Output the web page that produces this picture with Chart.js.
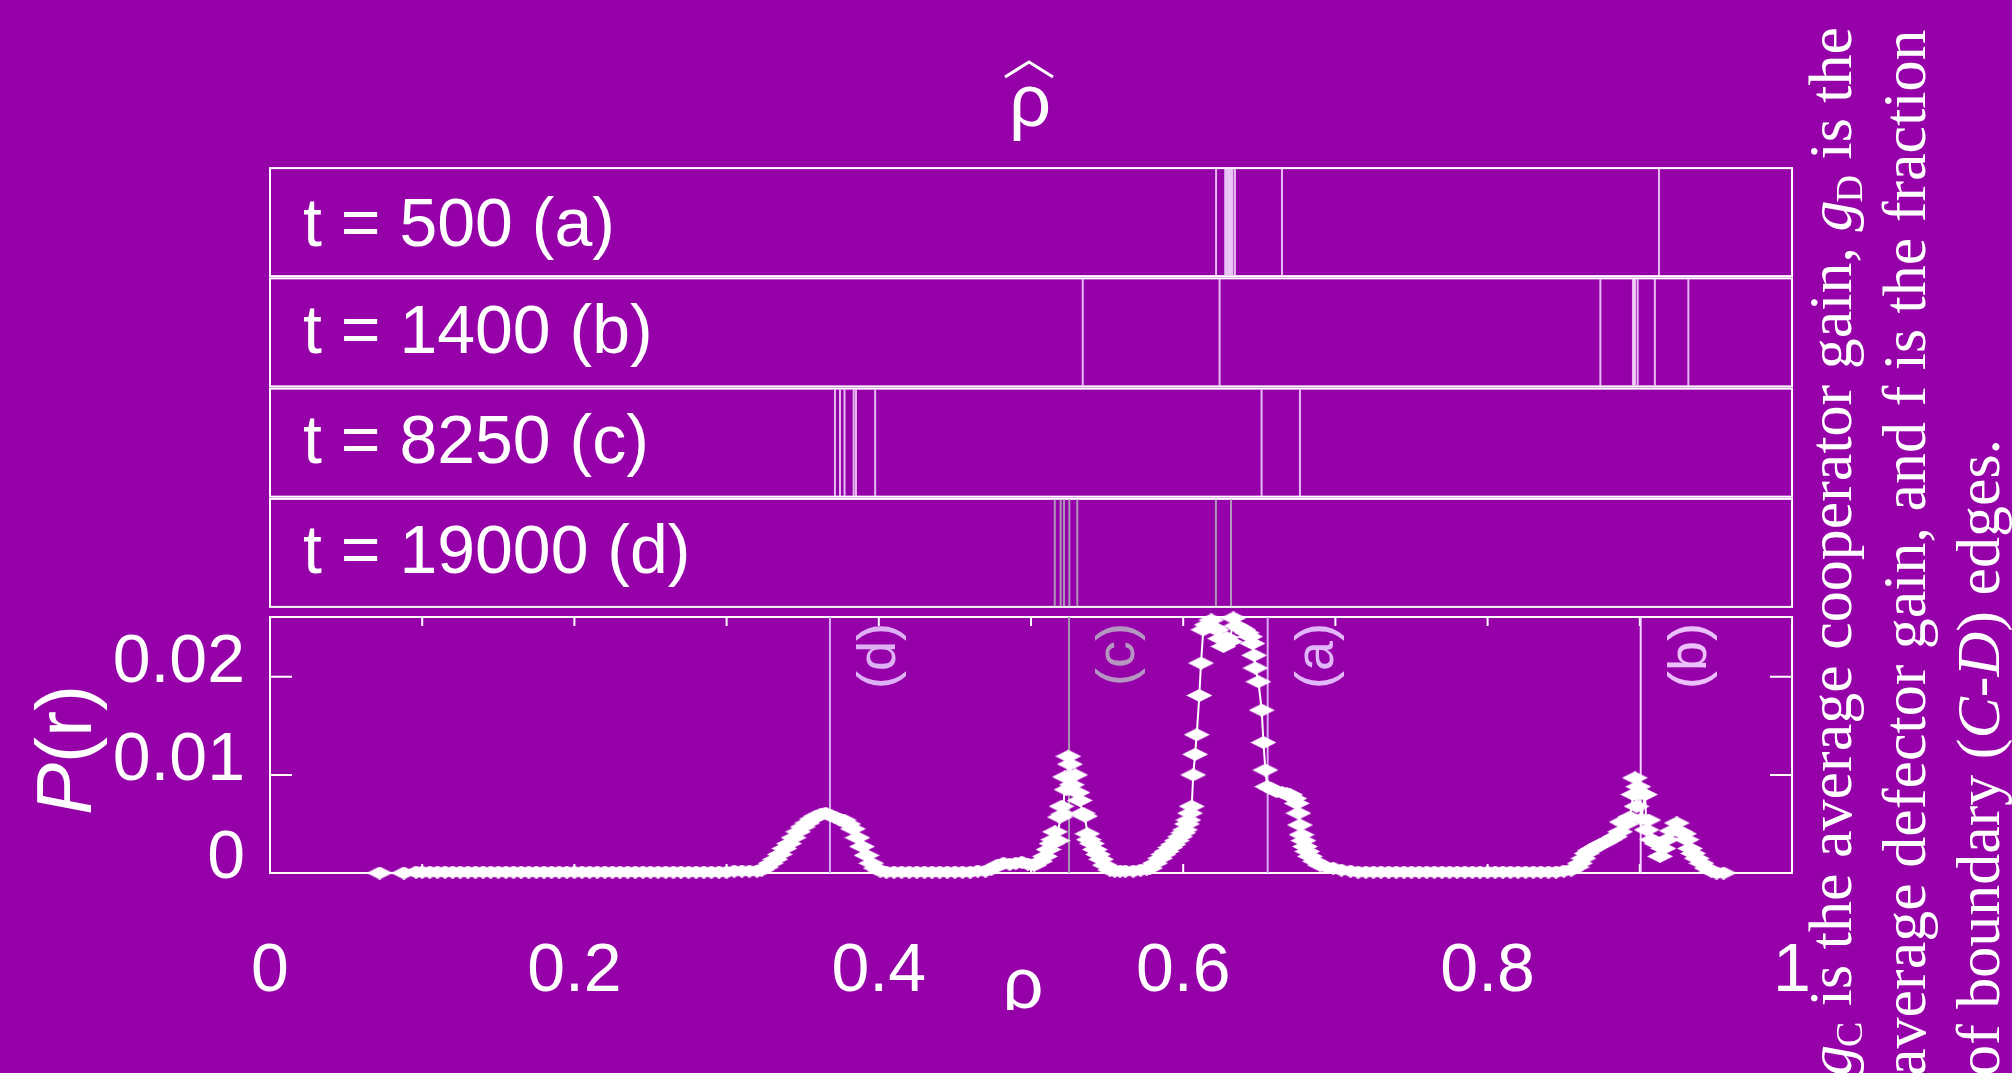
<!DOCTYPE html>
<html>
<head>
<meta charset="utf-8">
<script src="https://cdn.jsdelivr.net/npm/chart.js@4.4.1/dist/chart.umd.min.js"></script>
<style>
  html, body { margin: 0; padding: 0; background: #9500a9; }
  #page { position: relative; width: 2012px; height: 1073px; overflow: hidden; background: #9500a9; }
  #page canvas, #page svg { position: absolute; left: 0; top: 0; }
</style>
</head>
<body>
<div id="page">
  <canvas id="rowsChart" width="2012" height="1073"></canvas>
  <canvas id="probChart" width="2012" height="1073"></canvas>
  <svg width="2012" height="1073" xmlns="http://www.w3.org/2000/svg" font-family="'Liberation Sans', Arial, sans-serif" fill="#ffffff">
    <defs>
      <clipPath id="xLabelClip"><rect x="900" y="900" width="250" height="110"/></clipPath>
    </defs>
    <!-- top title: rho hat -->
    <polyline points="1005,77 1029,62 1053,77" fill="none" stroke="#ffffff" stroke-width="3"/>
    <text x="1030" y="126" font-size="74" text-anchor="middle">ρ</text>
    <!-- panel labels -->
    <text x="303" y="246" font-size="68">t = 500 (a)</text>
    <text x="303" y="353" font-size="68">t = 1400 (b)</text>
    <text x="303" y="463" font-size="68">t = 8250 (c)</text>
    <text x="303" y="573" font-size="68">t = 19000 (d)</text>
    <!-- axis titles -->
    <text transform="translate(91,750) rotate(-90)" font-size="78" text-anchor="middle"><tspan font-style="italic">P</tspan>(r)</text>
    <text x="1023" y="1008" font-size="72" text-anchor="middle" clip-path="url(#xLabelClip)">ρ</text>
    <!-- caption, rotated -->
    <g font-family="'Liberation Serif', 'Times New Roman', serif" font-size="62">
      <text transform="translate(1851,1076) rotate(-90)"><tspan font-style="italic">g</tspan><tspan font-size="38" dx="-2" dy="11">C</tspan><tspan dy="-11"> is the average cooperator gain, </tspan><tspan font-style="italic">g</tspan><tspan font-size="38" dx="-2" dy="11">D</tspan><tspan dy="-11"> is the</tspan></text>
      <text transform="translate(1925,1076) rotate(-90)">average defector gain, and f is the fraction</text>
      <text transform="translate(1999,1076) rotate(-90)">of boundary (<tspan font-style="italic">C</tspan>-<tspan font-style="italic">D</tspan>) edges.</text>
    </g>
  </svg>
</div>
<script>
// rho-hat positions seen in each snapshot panel (a)..(d)
const rowNames = ['a', 'b', 'c', 'd'];
const rhoHatA = [0.6216, 0.6276, 0.6284, 0.6292, 0.6300, 0.6308, 0.6316, 0.6324, 0.6340, 0.6649, 0.9126];
const rhoHatB = [0.5340, 0.6239, 0.8741, 0.8955, 0.8962, 0.8969, 0.8986, 0.9099, 0.9319];
const rhoHatC = [0.3712, 0.3745, 0.3775, 0.3835, 0.3850, 0.3976, 0.6515, 0.6767];
const rhoHatD = [0.5156, 0.5195, 0.5217, 0.5252, 0.5304, 0.6215, 0.6314];
const rowColors = ['rgba(238,205,250,0.9)', 'rgba(238,205,250,0.9)', 'rgba(238,205,250,0.9)', 'rgb(172,152,182)'];

// marked rho values in the P(r) panel
const markLabels = ['(a)', '(b)', '(c)', '(d)'];
const markRho = [0.6555, 0.9006, 0.5250, 0.3679];
const markLineColors = ['rgb(222,172,246)', 'rgb(242,212,252)', 'rgb(168,150,178)', 'rgb(216,170,242)'];
const markTextColors = ['rgb(226,182,250)', 'rgb(236,192,252)', 'rgb(180,150,192)', 'rgb(222,176,246)'];

// P(r) curve
const rhoVals = [
  0.072, 0.088, 0.096,
  0.100, 0.105, 0.110, 0.115, 0.120, 0.125, 0.130, 0.135, 0.140, 0.145, 0.150, 0.155, 0.160, 0.165, 0.170,
  0.175, 0.180, 0.185, 0.190, 0.195, 0.200, 0.205, 0.210, 0.215, 0.220, 0.225, 0.230, 0.235, 0.240, 0.245,
  0.250, 0.255, 0.260, 0.265, 0.270, 0.275, 0.280, 0.285, 0.290, 0.295, 0.300, 0.305, 0.310, 0.315, 0.320,
  0.323, 0.326, 0.329, 0.332, 0.335, 0.338, 0.341, 0.344, 0.347, 0.350, 0.353, 0.356, 0.359, 0.362, 0.365,
  0.368, 0.371, 0.374, 0.377, 0.380, 0.383, 0.386, 0.389, 0.392, 0.395, 0.398, 0.401,
  0.405, 0.410, 0.415, 0.420, 0.425, 0.430, 0.435, 0.440, 0.445, 0.450, 0.455, 0.460, 0.465, 0.470,
  0.474, 0.478, 0.482, 0.486, 0.490, 0.494, 0.498, 0.502, 0.506,
  0.5092, 0.5115, 0.5135, 0.5147, 0.5158, 0.5175, 0.5190, 0.5201, 0.5212, 0.5223, 0.5234, 0.5245, 0.5256,
  0.5268, 0.5290, 0.5305, 0.5320, 0.5340, 0.5355, 0.5370, 0.5380, 0.5400, 0.5420, 0.5440, 0.5460, 0.5485,
  0.5519, 0.5550, 0.5585, 0.5620, 0.5672, 0.5720, 0.5760, 0.5782, 0.5815, 0.5848, 0.5870, 0.5891, 0.5915,
  0.5935, 0.5958, 0.5979, 0.6000, 0.6012, 0.6025, 0.6034, 0.6045, 0.6056, 0.6066, 0.6078, 0.6089, 0.6106,
  0.6117, 0.6132, 0.6154, 0.6185, 0.6205, 0.6220, 0.6242, 0.6264, 0.6285, 0.6307, 0.6330, 0.6350, 0.6373,
  0.6395, 0.6417, 0.6440, 0.6455, 0.6466, 0.6475, 0.6494, 0.6516, 0.6527, 0.6540, 0.6552, 0.6580, 0.6614,
  0.6650, 0.6680, 0.6702, 0.6730, 0.6746, 0.6757, 0.6767, 0.6778, 0.6790, 0.6800, 0.6815, 0.6833, 0.6865,
  0.6899, 0.6940, 0.6986, 0.7040, 0.7100,
  0.715, 0.720, 0.725, 0.730, 0.735, 0.740, 0.745, 0.750, 0.755, 0.760, 0.765, 0.770, 0.775, 0.780, 0.785,
  0.790, 0.795, 0.800, 0.805, 0.810, 0.815, 0.820, 0.825, 0.830, 0.835, 0.840, 0.845, 0.850, 0.855,
  0.8585, 0.8607, 0.8630, 0.8651, 0.8673, 0.8695, 0.8717, 0.8739, 0.8770, 0.8804, 0.8837, 0.8870, 0.8881,
  0.8910, 0.8935, 0.8957, 0.8968, 0.8979, 0.8990, 0.9010, 0.9034, 0.9045, 0.9056, 0.9080, 0.9110, 0.9133,
  0.9155, 0.9177, 0.9210, 0.9243, 0.9265, 0.9290, 0.9308, 0.9330, 0.9350, 0.9374, 0.9405, 0.9440, 0.9470,
  0.9505, 0.9550
];
const probVals = [
  0.0000, 0.0000, 0.0001,
  0.0001, 0.0001, 0.0001, 0.0001, 0.0001, 0.0001, 0.0001, 0.0001, 0.0001, 0.0001, 0.0001, 0.0001, 0.0001, 0.0001, 0.0001,
  0.0001, 0.0001, 0.0001, 0.0001, 0.0001, 0.0001, 0.0001, 0.0001, 0.0001, 0.0001, 0.0001, 0.0001, 0.0001, 0.0001, 0.0001,
  0.0001, 0.0001, 0.0001, 0.0001, 0.0001, 0.0001, 0.0001, 0.0001, 0.0001, 0.0001, 0.0001, 0.0002, 0.0002, 0.0002, 0.0002,
  0.0003, 0.0006, 0.0010, 0.0014, 0.0019, 0.0025, 0.0030, 0.0036, 0.0042, 0.0047, 0.0051, 0.0055, 0.0058, 0.0060, 0.0061,
  0.0059, 0.0057, 0.0055, 0.0054, 0.0050, 0.0045, 0.0036, 0.0027, 0.0018, 0.0010, 0.0005, 0.0002,
  0.0001, 0.0001, 0.0001, 0.0001, 0.0001, 0.0001, 0.0001, 0.0001, 0.0001, 0.0001, 0.0001, 0.0001, 0.0002, 0.0002,
  0.0004, 0.0008, 0.0010, 0.0009, 0.0010, 0.0011, 0.0009, 0.0008, 0.0012,
  0.0017, 0.0024, 0.0030, 0.0034, 0.0042, 0.0033, 0.0057, 0.0068, 0.0060, 0.0098, 0.0085, 0.0119, 0.0111,
  0.0090, 0.0100, 0.0082, 0.0074, 0.0061, 0.0058, 0.0040, 0.0034, 0.0030, 0.0024, 0.0019, 0.0014, 0.0008,
  0.0003, 0.0002, 0.0002, 0.0002, 0.0002, 0.0003, 0.0004, 0.0005, 0.0010, 0.0015, 0.0019, 0.0022, 0.0026,
  0.0029, 0.0033, 0.0037, 0.0041, 0.0044, 0.0050, 0.0054, 0.0061, 0.0068, 0.0100, 0.0121, 0.0141, 0.0181,
  0.0214, 0.0248, 0.0253, 0.0258, 0.0250, 0.0248, 0.0239, 0.0231, 0.0240, 0.0236, 0.0260, 0.0252, 0.0250,
  0.0248, 0.0245, 0.0241, 0.0234, 0.0222, 0.0209, 0.0195, 0.0166, 0.0133, 0.0105, 0.0088, 0.0086, 0.0083,
  0.0082, 0.0081, 0.0080, 0.0076, 0.0071, 0.0061, 0.0049, 0.0039, 0.0033, 0.0027, 0.0022, 0.0017, 0.0012,
  0.0008, 0.0006, 0.0005, 0.0003, 0.0002,
  0.0001, 0.0001, 0.0001, 0.0001, 0.0001, 0.0001, 0.0001, 0.0001, 0.0001, 0.0001, 0.0001, 0.0001, 0.0001, 0.0001, 0.0001,
  0.0001, 0.0001, 0.0001, 0.0001, 0.0001, 0.0001, 0.0001, 0.0001, 0.0001, 0.0001, 0.0001, 0.0001, 0.0002, 0.0003,
  0.0006, 0.0010, 0.0015, 0.0020, 0.0023, 0.0025, 0.0027, 0.0029, 0.0031, 0.0034, 0.0037, 0.0042, 0.0052,
  0.0050, 0.0057, 0.0080, 0.0097, 0.0068, 0.0088, 0.0055, 0.0080, 0.0044, 0.0054, 0.0034, 0.0030, 0.0017,
  0.0025, 0.0034, 0.0043, 0.0051, 0.0042, 0.0040, 0.0034, 0.0025, 0.0020, 0.0015, 0.0010, 0.0005, 0.0002,
  0.0000, 0.0000
];

const xLabelTicks = [0, 0.2, 0.4, 0.6, 0.8, 1];
const xMinorTicks = [0.1, 0.2, 0.3, 0.4, 0.5, 0.6, 0.7, 0.8, 0.9];
const yTicks = [0, 0.01, 0.02];
const yMax = 0.0261;

const sansFont = "'Liberation Sans', Arial, sans-serif";

// flat diamond marker like the gnuplot points
const diamond = document.createElement('canvas');
diamond.width = 26;
diamond.height = 13;
(function() {
  const c = diamond.getContext('2d');
  c.fillStyle = '#ffffff';
  c.beginPath();
  c.moveTo(0, 6.5); c.lineTo(13, 0); c.lineTo(26, 6.5); c.lineTo(13, 13);
  c.closePath();
  c.fill();
})();

// ---------- top: rho-hat snapshots ----------
const rowDatasets = [];
[rhoHatA, rhoHatB, rhoHatC, rhoHatD].forEach(function(vals, r) {
  vals.forEach(function(v) {
    rowDatasets.push({
      data: [{ x: v, y: r + 0.015 }, { x: v, y: r + 0.985 }],
      showLine: true,
      borderColor: rowColors[r],
      borderWidth: 2,
      pointRadius: 0
    });
  });
});

const rowFrames = {
  id: 'rowFrames',
  beforeDatasetsDraw(chart) {
    const { ctx, chartArea, scales } = chart;
    ctx.save();
    ctx.strokeStyle = '#ffffff';
    ctx.lineWidth = 2;
    rowNames.forEach(function(name, r) {
      const top = scales.y.getPixelForValue(r + 0.01);
      const bottom = scales.y.getPixelForValue(r + 0.99);
      ctx.strokeRect(chartArea.left, top, chartArea.right - chartArea.left, bottom - top);
    });
    ctx.restore();
  }
};

new Chart(document.getElementById('rowsChart'), {
  type: 'scatter',
  data: { datasets: rowDatasets },
  options: {
    responsive: false,
    animation: false,
    devicePixelRatio: 1,
    layout: { padding: { left: 270, right: 220, top: 167, bottom: 465 } },
    scales: {
      x: { type: 'linear', min: 0, max: 1, display: false },
      y: { type: 'linear', min: 0, max: 4, reverse: true, display: false }
    },
    plugins: { legend: { display: false }, tooltip: { enabled: false } }
  },
  plugins: [rowFrames]
});

// ---------- bottom: P(r) ----------
const curvePoints = rhoVals.map(function(x, i) { return { x: x, y: probVals[i] }; });

const probDatasets = [{
  data: curvePoints,
  showLine: true,
  borderColor: '#ffffff',
  borderWidth: 2,
  pointStyle: diamond,
  pointRadius: 7,
  clip: false
}];
markRho.forEach(function(v, i) {
  probDatasets.push({
    data: [{ x: v, y: 0 }, { x: v, y: yMax }],
    showLine: true,
    borderColor: markLineColors[i],
    borderWidth: 2,
    pointRadius: 0
  });
});

const frameAndTicks = {
  id: 'frameAndTicks',
  beforeDatasetsDraw(chart) {
    const { ctx, chartArea, scales } = chart;
    const { left, right, top, bottom } = chartArea;
    ctx.save();
    ctx.strokeStyle = '#ffffff';
    ctx.lineWidth = 2;
    ctx.strokeRect(left, top, right - left, bottom - top);
    ctx.beginPath();
    xMinorTicks.forEach(function(v) {
      const px = scales.x.getPixelForValue(v);
      ctx.moveTo(px, bottom); ctx.lineTo(px, bottom - 9);
      ctx.moveTo(px, top); ctx.lineTo(px, top + 9);
    });
    yTicks.forEach(function(v) {
      const py = scales.y.getPixelForValue(v);
      ctx.moveTo(left, py); ctx.lineTo(left + 22, py);
      ctx.moveTo(right, py); ctx.lineTo(right - 22, py);
    });
    ctx.stroke();
    ctx.restore();
  },
  afterDatasetsDraw(chart) {
    const { ctx, scales } = chart;
    ctx.save();
    ctx.font = '54px ' + sansFont;
    ctx.textAlign = 'right';
    ctx.textBaseline = 'middle';
    markRho.forEach(function(v, i) {
      ctx.save();
      ctx.translate(scales.x.getPixelForValue(v) + 50, 623);
      ctx.rotate(-Math.PI / 2);
      ctx.fillStyle = markTextColors[i];
      ctx.fillText(markLabels[i], 0, 0);
      ctx.restore();
    });
    ctx.restore();
  }
};

new Chart(document.getElementById('probChart'), {
  type: 'scatter',
  data: { datasets: probDatasets },
  options: {
    responsive: false,
    animation: false,
    devicePixelRatio: 1,
    layout: { padding: { left: 0, right: 220, top: 617, bottom: 0 } },
    scales: {
      x: {
        type: 'linear', min: 0, max: 1,
        grid: { display: false, drawTicks: false },
        border: { display: false },
        afterBuildTicks: function(s) { s.ticks = xLabelTicks.map(function(v) { return { value: v }; }); },
        afterFit: function(s) { s.height = 200; },
        ticks: {
          color: '#ffffff', padding: 65, maxRotation: 0, autoSkip: false,
          font: { family: sansFont, size: 68, lineHeight: 1 },
          callback: function(v) { return String(v); }
        }
      },
      y: {
        type: 'linear', min: 0, max: yMax,
        grid: { display: false, drawTicks: false },
        border: { display: false },
        afterBuildTicks: function(s) { s.ticks = yTicks.map(function(v) { return { value: v }; }); },
        afterFit: function(s) { s.width = 270; },
        ticks: {
          color: '#ffffff', padding: 25, labelOffset: -14,
          font: { family: sansFont, size: 68, lineHeight: 1 },
          callback: function(v) { return String(v); }
        }
      }
    },
    plugins: { legend: { display: false }, tooltip: { enabled: false } }
  },
  plugins: [frameAndTicks]
});
</script>
</body>
</html>
